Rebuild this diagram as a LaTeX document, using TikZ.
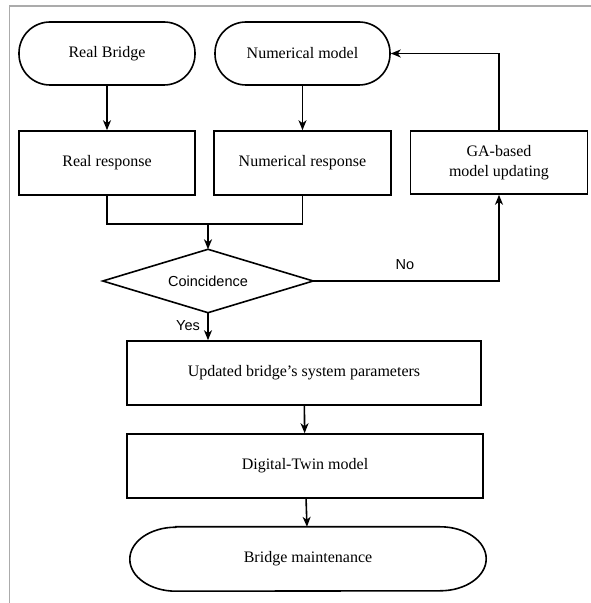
\documentclass[tikz,border=0pt]{standalone}
\usepackage{fontspec}
\setmainfont{Liberation Serif}
\newfontfamily\sansf{Liberation Sans}
\usetikzlibrary{shapes.geometric,arrows.meta,calc}
\begin{document}
\begin{tikzpicture}[x=1pt,y=1pt,
  lw/.style={line width=1.6pt},
  txt/.style={font=\fontsize{16}{20}\selectfont},
  stadium/.style={lw,draw,rectangle,rounded corners=31pt,txt,minimum width=176pt,minimum height=63pt},
  procbox/.style={lw,draw,rectangle,txt,minimum height=64pt,align=center},
  arr/.style={lw,-{Stealth[length=10pt,width=8pt,inset=3pt]}},
  sanslabel/.style={font=\sansf\fontsize{14.5}{16}\selectfont}]
\useasboundingbox (0,0) rectangle (591,603);
\draw[line width=1.5pt,color=black!33] (9.5,0) -- (9.5,597) -- (591,597);

\node[stadium] (rb) at (107,549.5) {Real Bridge};
\node[stadium,minimum width=175pt] (nm) at (302.5,549.5) {Numerical model};
\node[procbox,minimum width=176pt] (rr) at (107,440) {Real response};
\node[procbox,minimum width=177pt] (nr) at (302.5,440) {Numerical response};
\node[procbox,minimum width=177pt,minimum height=63pt] (ga) at (499,440.5) {GA-based\\model updating};
\node[rectangle,minimum width=210pt,minimum height=63pt,inner sep=0pt,sanslabel] (co) at (208,322) {Coincidence};
\draw[lw] (co.north) -- (co.east) -- (co.south) -- (co.west) -- cycle;
\node[procbox,minimum width=354pt] (up) at (304,230) {Updated bridge's system parameters};
\node[procbox,minimum width=356pt] (dt) at (305,137) {Digital-Twin model};
\node[txt,minimum width=356pt,minimum height=64pt] (mt) at (308,44) {Bridge maintenance};
\draw[lw] ($(mt.north west)+(46,0)$) -- ($(mt.north east)+(-46,0)$)
  arc[start angle=90,end angle=-90,x radius=46,y radius=32]
  -- ($(mt.south west)+(46,0)$)
  arc[start angle=270,end angle=90,x radius=46,y radius=32] -- cycle;

\coordinate (mg) at (208,379);
\coordinate (fb) at (499,549.5);
\coordinate (nocorner) at (499,322);

\draw[arr] (rb) -- (rr);
\draw[arr] (nm) -- (nr);
\draw[lw] (rr.south) |- (mg) -| (nr.south);
\draw[arr] (mg) -- (co.north);
\draw[arr] (co.east) -- (nocorner) -- (ga.south);
\draw[arr] (ga.north) -- (fb) -- (nm.east);
\draw[arr] (co.south) -- (co.south |- up.north);
\draw[arr] (up) -- (dt);
\draw[arr] (dt) -- (mt);

\node[sanslabel] (no) at (405,338) {No};
\node[sanslabel] (yes) at (188,277) {Yes};
\end{tikzpicture}
\end{document}
